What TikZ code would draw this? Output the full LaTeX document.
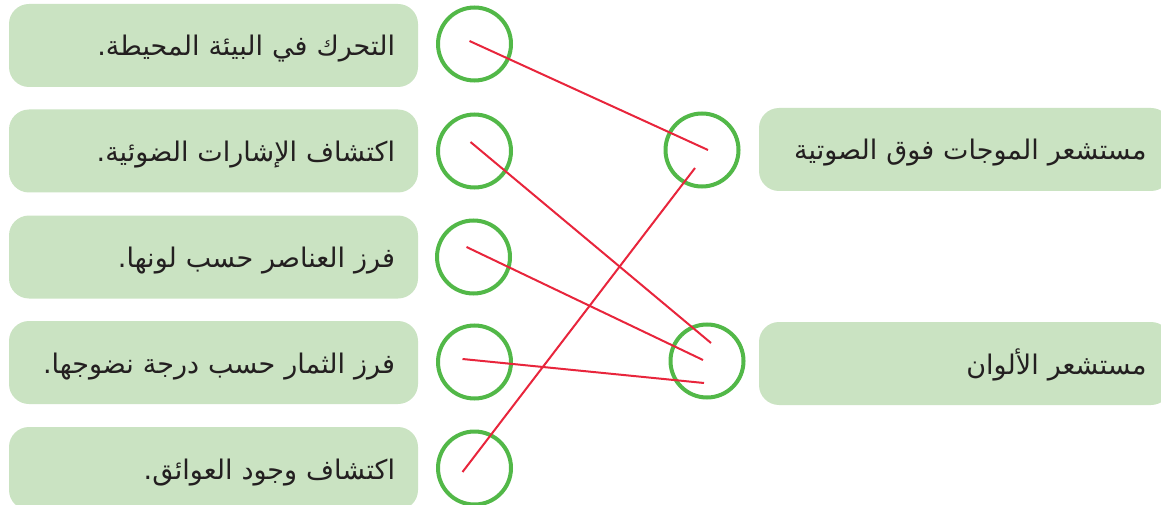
\documentclass[tikz,border=0pt]{standalone}
\usepackage{fontspec}
\TeXXeTstate=1
\newfontfamily\arabicfont[Script=Arabic]{DejaVu Sans}
\usetikzlibrary{calc}
\definecolor{boxgreen}{HTML}{CAE3C2}
\definecolor{ringgreen}{HTML}{52B848}
\definecolor{linered}{HTML}{E8253C}
\definecolor{txt}{HTML}{231F20}
\newcommand{\artext}[1]{\raisebox{-10.5pt}[0pt][0pt]{\beginR #1\endR}}
\begin{document}
\begin{tikzpicture}[x=1pt,y=-1pt,
  lbox/.style={fill=boxgreen, rounded corners=20pt, minimum width=409pt, minimum height=83pt,
    text width=363pt, align=right, inner sep=0pt, font=\arabicfont\fontsize{27}{32}\selectfont, text=txt},
  rbox/.style={lbox, minimum width=412pt},
  ring/.style={circle, draw=ringgreen, line width=4pt, minimum size=73pt, inner sep=0pt},
  link/.style={draw=linered, line width=2pt}]
\useasboundingbox (0,0) rectangle (1161,505);
\clip (0,0) rectangle (1161,505);
% left boxes
\node[lbox] (b1) at (213.5,45.5) {\artext{التحرك في البيئة المحيطة.}};
\node[lbox] (b2) at (213.5,151) {\artext{اكتشاف الإشارات الضوئية.}};
\node[lbox] (b3) at (213.5,257) {\artext{فرز العناصر حسب لونها.}};
\node[lbox] (b4) at (213.5,362.5) {\artext{فرز الثمار حسب درجة نضوجها.}};
\node[lbox] (b5) at (213.5,468.5) {\artext{اكتشاف وجود العوائق.}};
% right boxes
\node[rbox] (rb1) at (965,149.5) {\artext{مستشعر الموجات فوق الصوتية}};
\node[rbox] (rb2) at (965,363.5) {\artext{مستشعر الألوان}};
% circles
\node[ring] (c1) at (474.5,44) {};
\node[ring] (c2) at (474.5,151) {};
\node[ring] (c3) at (473.5,257) {};
\node[ring] (c4) at (474.5,362) {};
\node[ring] (c5) at (474.5,468) {};
\node[ring] (r1) at (702,150) {};
\node[ring] (r2) at (707,361) {};
% connectors
\draw[link] ($(c1.center)+(-5,-3)$) -- ($(r1.center)+(6,0)$);
\draw[link] ($(c2.center)+(-4,-9)$) -- ($(r2.center)+(4,-18)$);
\draw[link] ($(c3.center)+(-7,-10)$) -- ($(r2.center)+(-4,-1)$);
\draw[link] ($(c4.center)+(-12,-3)$) -- ($(r2.center)+(-3,22)$);
\draw[link] ($(c5.center)+(-12,4)$) -- ($(r1.center)+(-7,18)$);
\end{tikzpicture}
\end{document}
